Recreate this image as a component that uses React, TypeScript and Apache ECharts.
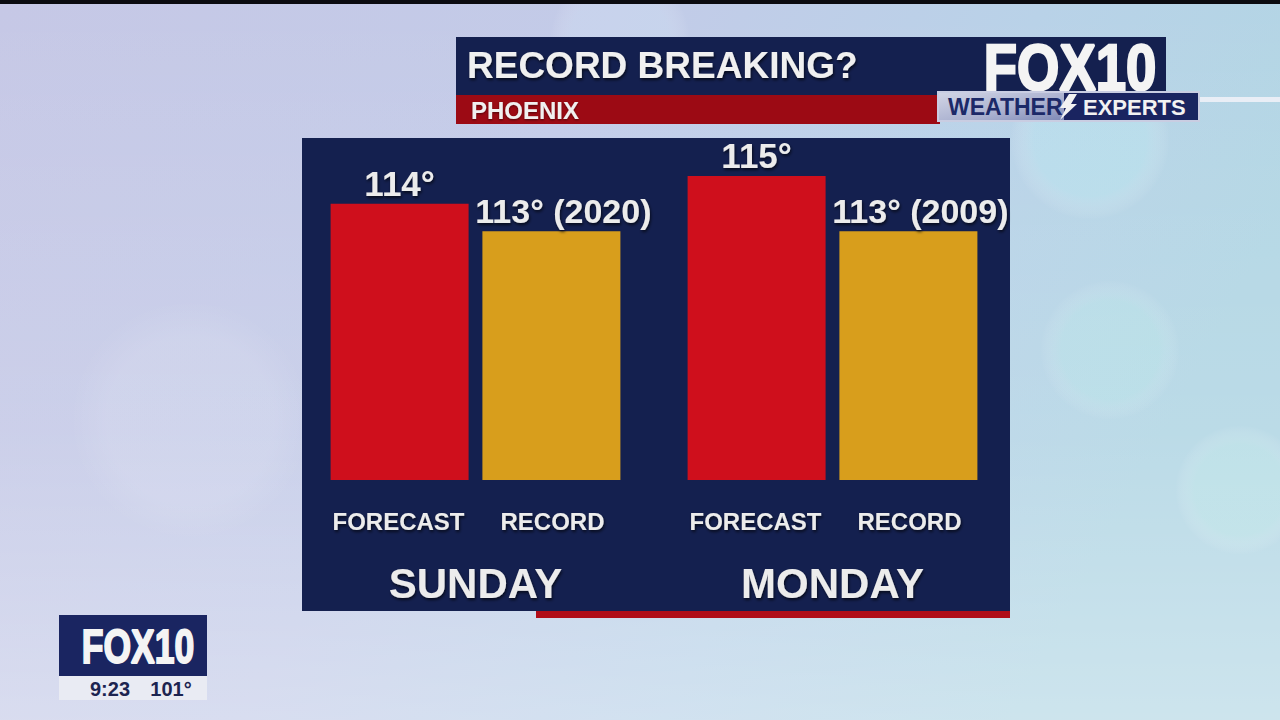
import { useEffect, useRef } from "react";
import * as echarts from "echarts";

const days = ["SUNDAY", "MONDAY"];
const forecastHighs = [114, 115];
const recordHighs = [113, 113];
const recordYears = ["2020", "2009"];
const barNames = ["FORECAST", "RECORD"];
const titleText = "RECORD BREAKING?";
const cityText = "PHOENIX";
const logoText = "FOX10";
const bugTime = "9:23";
const bugTemp = "101°";

const NAVY = "#14204f";
const FONT = "'Liberation Sans', Arial, Helvetica, sans-serif";
const shadow = {
  textShadowColor: "rgba(0,0,0,0.65)",
  textShadowBlur: 3,
  textShadowOffsetX: 1,
  textShadowOffsetY: 2,
};

const glow = (cx: number, cy: number, r: number, color: string) => ({
  type: "circle",
  z: 0,
  shape: { cx, cy, r },
  style: {
    fill: new echarts.graphic.RadialGradient(0.5, 0.5, 0.5, [
      { offset: 0, color },
      { offset: 0.7, color },
      { offset: 1, color: "rgba(255,255,255,0)" },
    ]),
  },
});

export default function App() {
  const ref = useRef<HTMLDivElement>(null);
  useEffect(() => {
    const chart = echarts.init(ref.current!, null, { renderer: "svg" });
    const graphic: any[] = [
      {
        type: "rect",
        z: 0,
        shape: { x: 0, y: 0, width: 1280, height: 720 },
        style: {
          fill: new echarts.graphic.LinearGradient(0, 0, 1, 0.3, [
            { offset: 0, color: "#c6c8e6" },
            { offset: 0.45, color: "#c3cbe8" },
            { offset: 0.75, color: "#b9d2e8" },
            { offset: 1, color: "#b2d6e4" },
          ]),
        },
      },
      {
        type: "rect",
        z: 0,
        shape: { x: 0, y: 0, width: 1280, height: 720 },
        style: {
          fill: new echarts.graphic.LinearGradient(0, 0, 0, 1, [
            { offset: 0, color: "rgba(255,255,255,0)" },
            { offset: 0.6, color: "rgba(255,255,255,0.12)" },
            { offset: 1, color: "rgba(255,255,255,0.35)" },
          ]),
        },
      },
      glow(1090, 140, 80, "rgba(190,240,245,0.3)"),
      glow(1110, 350, 70, "rgba(190,240,235,0.25)"),
      glow(1240, 490, 65, "rgba(200,240,235,0.3)"),
      glow(190, 420, 120, "rgba(255,255,255,0.1)"),
      glow(620, 40, 70, "rgba(215,235,250,0.25)"),
      { type: "rect", z: 0, shape: { x: 0, y: 0, width: 1280, height: 4 }, style: { fill: "#0b0b10" } },
      // main panel
      { type: "rect", z: 1, shape: { x: 302, y: 138, width: 708, height: 473 }, style: { fill: NAVY } },
      { type: "rect", z: 1, shape: { x: 536, y: 611, width: 474, height: 7 }, style: { fill: "#b00d18" } },
      // title
      { type: "rect", z: 3, shape: { x: 456, y: 37, width: 710, height: 58 }, style: { fill: NAVY } },
      { type: "rect", z: 3, shape: { x: 456, y: 95, width: 484, height: 29 }, style: { fill: "#9c0a14" } },
      {
        type: "text", z: 4, x: 467, y: 65,
        style: { text: titleText, fill: "#f0f0f0", font: `bold 37px ${FONT}`, verticalAlign: "middle", ...shadow },
      },
      {
        type: "text", z: 4, x: 471, y: 110,
        style: { text: cityText, fill: "#f0f0f0", font: `bold 24px ${FONT}`, verticalAlign: "middle", textShadowColor: "rgba(0,0,0,0.5)", textShadowBlur: 2, textShadowOffsetY: 1 },
      },
      {
        type: "text", z: 4, x: 1070, y: 68, scaleX: 0.85,
        style: { text: logoText, fill: "#f4f4f4", stroke: "#f4f4f4", lineWidth: 2.5, font: `bold 64px ${FONT}`, align: "center", verticalAlign: "middle" },
      },
      // weather experts box
      { type: "rect", z: 3, shape: { x: 1199, y: 97, width: 81, height: 5 }, style: { fill: "#e9eef6" } },
      {
        type: "rect", z: 3, shape: { x: 938, y: 92, width: 126, height: 29 },
        style: {
          fill: new echarts.graphic.LinearGradient(0, 0, 1, 1, [
            { offset: 0, color: "#d3d6e6" },
            { offset: 0.6, color: "#a9b0cf" },
            { offset: 1, color: "#7d88b6" },
          ]),
        },
      },
      { type: "rect", z: 3, shape: { x: 1064, y: 92, width: 135, height: 29 }, style: { fill: "#1a2460" } },
      { type: "rect", z: 4, shape: { x: 938, y: 92, width: 261, height: 29 }, style: { fill: "none", stroke: "#c9cde2", lineWidth: 2 } },
      {
        type: "text", z: 4, x: 948, y: 107,
        style: { text: "WEATHER", fill: "#1c2968", font: `bold 23px ${FONT}`, verticalAlign: "middle" },
      },
      {
        type: "polygon", z: 4,
        shape: { points: [[1069, 94], [1077, 94], [1071, 104], [1077, 104], [1060, 120], [1066, 108], [1060, 108]] },
        style: { fill: "#f2f2f2" },
      },
      {
        type: "text", z: 4, x: 1083, y: 107,
        style: { text: "EXPERTS", fill: "#f2f2f2", font: `bold 22px ${FONT}`, verticalAlign: "middle" },
      },
      // bottom bug
      { type: "rect", z: 3, shape: { x: 59, y: 615, width: 148, height: 61 }, style: { fill: "#1a2561" } },
      { type: "rect", z: 3, shape: { x: 59, y: 676, width: 148, height: 24 }, style: { fill: "#e9ebf3" } },
      {
        type: "text", z: 4, x: 138, y: 647, scaleX: 0.74,
        style: { text: logoText, fill: "#f4f4f4", stroke: "#f4f4f4", lineWidth: 2, font: `bold 48px ${FONT}`, align: "center", verticalAlign: "middle" },
      },
      {
        type: "text", z: 4, x: 110, y: 689,
        style: { text: bugTime, fill: "#1c2450", font: `bold 20px ${FONT}`, align: "center", verticalAlign: "middle" },
      },
      {
        type: "text", z: 4, x: 171, y: 689,
        style: { text: bugTemp, fill: "#1c2450", font: `bold 20px ${FONT}`, align: "center", verticalAlign: "middle" },
      },
    ];

    chart.setOption({
      animation: false,
      graphic,
      grid: { left: 297, right: 269, top: 176, bottom: 240 },
      xAxis: {
        type: "category",
        data: days,
        z: 6,
        axisLine: { show: false },
        axisTick: { show: false },
        splitLine: { show: false },
        axisLabel: {
          margin: 21,
          interval: 0,
          formatter: (v: string) => `{f|${barNames[0]}}{r|${barNames[1]}}\n{d|${v}}`,
          rich: {
            f: { width: 154, align: "center", fontSize: 24, fontWeight: "bold", fontFamily: FONT, color: "#ececec", lineHeight: 40, ...shadow },
            r: { width: 154, align: "center", fontSize: 24, fontWeight: "bold", fontFamily: FONT, color: "#ececec", lineHeight: 40, ...shadow },
            d: { fontSize: 42, fontWeight: "bold", fontFamily: FONT, color: "#ececec", lineHeight: 84, align: "center", ...shadow },
          },
        },
      },
      yAxis: { type: "value", min: 104, max: 115, show: false, splitLine: { show: false } },
      series: [
        {
          name: barNames[0],
          type: "bar",
          data: forecastHighs,
          barWidth: 138,
          barGap: "10%",
          itemStyle: { color: "#cf0f1c" },
          label: {
            show: true,
            position: "top",
            distance: 3,
            formatter: (p: any) => `${p.value}°`,
            fontSize: 35,
            fontWeight: "bold",
            fontFamily: FONT,
            color: "#ececec",
            ...shadow,
          },
        },
        {
          name: barNames[1],
          type: "bar",
          data: recordHighs,
          barWidth: 138,
          barGap: "10%",
          itemStyle: { color: "#d89e1c" },
          label: {
            show: true,
            position: "top",
            distance: 3,
            offset: [12, 0],
            formatter: (p: any) => `${p.value}° (${recordYears[p.dataIndex]})`,
            fontSize: 34,
            fontWeight: "bold",
            fontFamily: FONT,
            color: "#ececec",
            ...shadow,
          },
        },
      ],
    });
    return () => chart.dispose();
  }, []);
  return (
    <div
      ref={ref}
      style={{ position: "fixed", left: 0, top: 0, width: 1280, height: 720, background: "#c4cae6" }}
    />
  );
}
